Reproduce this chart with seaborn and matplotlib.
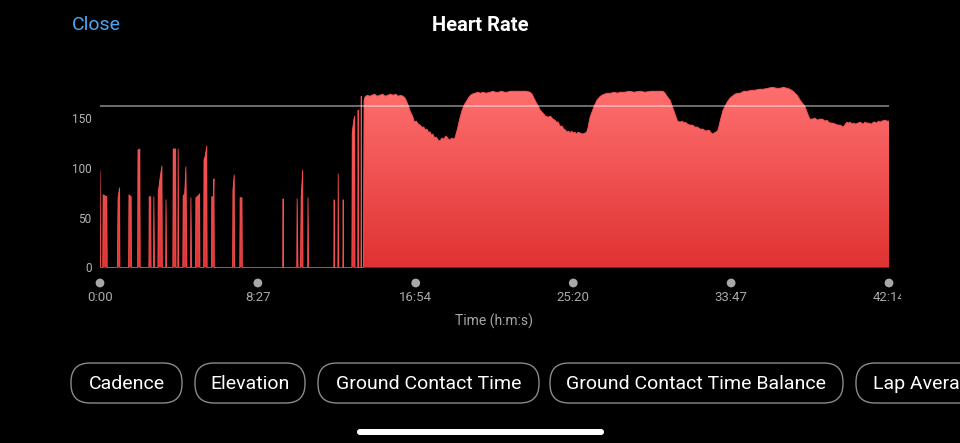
import numpy as np
import pandas as pd
import matplotlib
matplotlib.use("Agg")
import matplotlib.pyplot as plt
import seaborn as sns
from matplotlib.patches import FancyBboxPatch
from matplotlib.colors import LinearSegmentedColormap
from matplotlib.transforms import Bbox, TransformedBbox, blended_transform_factory

# ---------------- data ----------------
spike_time = [0, 2, 9, 10, 22, 23, 56, 58, 63, 64, 92, 93, 100, 101,
              121, 122, 128, 129, 157, 158, 163, 164, 172, 173, 175,
              186, 187, 193, 199, 200, 211, 212, 214, 234, 235, 243, 244,
              250, 251, 253, 266, 267, 272, 276, 279, 291, 292, 294,
              307, 308, 315, 320, 321, 333, 334, 338, 343, 344,
              358, 359, 364, 366, 367, 426, 427, 431, 432, 449, 450, 456, 457,
              587, 588, 589, 632, 633, 636, 644, 646, 651, 652, 667, 668, 670,
              751, 752, 753, 764, 765, 767, 780, 781, 782,
              809, 810, 815, 818, 819, 828, 829, 830, 838, 839, 840, 846]
spike_bpm = [97, 0, 0, 73, 71, 0, 0, 70, 80, 0, 0, 73, 71, 0,
             0, 118, 119, 0, 0, 71, 71, 0, 0, 71, 0,
             0, 75, 90, 102, 0, 0, 68, 0, 0, 119, 119, 0,
             0, 119, 0, 0, 72, 74, 101, 0, 0, 70, 0,
             0, 70, 72, 74, 0, 0, 108, 112, 122, 0,
             0, 71, 71, 89, 0, 0, 78, 93, 0, 0, 70, 70, 0,
             0, 69, 0, 0, 69, 0, 0, 70, 98, 0, 0, 70, 0,
             0, 68, 0, 0, 94, 0, 0, 68, 0,
             0, 135, 148, 152, 0, 0, 158, 0, 0, 172, 0, 0]

run_time = [848, 851, 858, 866, 874, 882, 890, 899, 908, 916, 925, 933, 942,
            950, 958, 966, 973, 980, 986, 991, 996, 1004, 1010, 1016, 1022,
            1028, 1034, 1040, 1045, 1050, 1055, 1060, 1065, 1069, 1075, 1080,
            1086, 1092, 1098, 1105, 1110, 1114, 1119, 1124, 1129, 1134, 1140,
            1147, 1156, 1163, 1171, 1179, 1187, 1195, 1205, 1214, 1222, 1230,
            1240, 1253, 1262, 1270, 1280, 1290, 1299, 1307, 1318, 1330, 1340,
            1349, 1360, 1370, 1381, 1388, 1394, 1404, 1414, 1423, 1431, 1439,
            1447, 1455, 1461, 1466, 1472, 1477, 1484, 1490, 1495, 1500, 1505,
            1510, 1515, 1519, 1525, 1530, 1536, 1542, 1550, 1558, 1563, 1567,
            1574, 1587, 1596, 1604, 1612, 1620, 1628, 1640, 1652, 1662, 1670,
            1685, 1700, 1715, 1734, 1750, 1770, 1790, 1808, 1815, 1821, 1831,
            1839, 1847, 1855, 1863, 1870, 1875, 1879, 1887, 1895, 1903, 1911,
            1919, 1927, 1936, 1946, 1956, 1961, 1966, 1972, 1979, 1985, 1994,
            2001, 2014, 2023, 2031, 2039, 2048, 2056, 2068, 2080, 2092, 2104,
            2117, 2130, 2145, 2161, 2172, 2184, 2195, 2206, 2216, 2226, 2239,
            2251, 2264, 2272, 2280, 2288, 2296, 2305, 2312, 2320, 2329, 2335,
            2340, 2347, 2354, 2362, 2370, 2378, 2386, 2392, 2399, 2404, 2409,
            2415, 2420, 2427, 2434, 2442, 2450, 2457, 2463, 2470, 2478, 2484,
            2489, 2495, 2500, 2506, 2512, 2520, 2528, 2534]
run_bpm = [168, 171, 173, 172, 173, 174, 172, 173, 174, 172, 173, 174, 173,
           174, 172, 173, 172, 170, 166, 162, 157, 152, 146, 147, 144,
           143, 141, 141, 138, 139, 136, 136, 133, 134, 130, 131,
           128, 127, 130, 129, 132, 131, 129, 128, 130, 129, 130,
           138, 150, 158, 164, 168, 172, 174, 175, 176, 175, 176,
           175, 176, 177, 176, 176, 177, 176, 176, 177, 177, 177,
           177, 177, 177, 176, 174, 170, 164, 158, 155, 152, 151,
           152, 149, 148, 146, 146, 142, 142, 139, 138, 136, 137,
           135, 137, 135, 136, 134, 136, 135, 134, 135, 136, 140,
           151, 162, 168, 171, 173, 174, 175, 175, 176, 175, 176,
           176, 177, 176, 177, 176, 177, 177, 177, 175, 172, 168,
           161, 154, 147, 146, 147, 145, 146, 144, 143, 143, 141,
           141, 139, 139, 137, 138, 136, 134, 135, 136, 138, 150,
           158, 166, 170, 172, 174, 175, 175, 177, 177, 178, 178,
           179, 179, 180, 181, 180, 180, 181, 180, 179, 177, 173,
           167, 162, 155, 149, 149, 150, 148, 149, 149, 147, 148,
           146, 145, 145, 144, 143, 143, 141, 143, 146, 145, 146,
           144, 145, 144, 145, 146, 144, 146, 145, 145, 144, 146,
           146, 145, 147, 146, 147, 148, 147, 147]

hr_time = spike_time + run_time
hr_bpm = spike_bpm + run_bpm
ref_bpm = 162

tick_secs = [0, 507, 1014, 1520, 2027, 2534]
tick_labels = ["0:00", "8:27", "16:54", "25:20", "33:47", "42:14"]
y_ticks = [0, 50, 100, 150]
metric_buttons = ["Cadence", "Elevation", "Ground Contact Time",
                  "Ground Contact Time Balance", "Lap Average"]

df = pd.DataFrame({"time": hr_time, "bpm": hr_bpm})

# ---------------- figure ----------------
sns.set_theme(style="dark")
plt.rcParams["font.family"] = ["Roboto", "DejaVu Sans"]
W, H = 960, 443
fig = plt.figure(figsize=(W / 100, H / 100), dpi=100, facecolor="black")

# overlay axes in pixel coordinates for UI chrome
ui = fig.add_axes([0, 0, 1, 1])
ui.set_xlim(0, W)
ui.set_ylim(H, 0)
ui.axis("off")
ui.patch.set_alpha(0)

ax_l, ax_r = 100, 889
y0_px = 267.5
px_per_bpm = 0.996
ymax = 190
ax_top = y0_px - ymax * px_per_bpm
ax = fig.add_axes([ax_l / W, (H - y0_px) / H, (ax_r - ax_l) / W, (y0_px - ax_top) / H])
ax.set_facecolor("black")
for s in ax.spines.values():
    s.set_visible(False)
ax.grid(False)
ax.set_xlim(0, 2534)
ax.set_ylim(0, ymax)

# area with gradient
fb = ax.fill_between(df["time"], 0, df["bpm"], facecolor="#ee4444", edgecolor="none", lw=0)
cmap = LinearSegmentedColormap.from_list("hr", ["#e03232", "#ff7070"])
grad = np.linspace(0, 1, 256).reshape(-1, 1)
im = ax.imshow(grad, cmap=cmap, aspect="auto", origin="lower",
               extent=[0, 2534, 0, 182], zorder=2, interpolation="bicubic")
im.set_clip_path(fb.get_paths()[0], transform=ax.transData)
sns.lineplot(data=df, x="time", y="bpm", ax=ax, color="#f05050", lw=0.6,
             estimator=None, sort=False, zorder=3)

ax.axhline(ref_bpm, color="white", alpha=0.5, lw=1.2, zorder=4)

# ticks
ax.set_xticks([])
ax.set_xlabel("")
ax.set_ylabel("")
ax.set_yticks(y_ticks)
ax.set_yticklabels([str(v) for v in y_ticks])
ax.tick_params(axis="y", length=0, pad=6, labelsize=8.5, labelcolor="#b4b4b4")

btrans = blended_transform_factory(ax.transData, ax.transAxes)
ah = y0_px - ax_top
ax.scatter(tick_secs, [-15.5 / ah] * len(tick_secs), s=40, color="#a8a8a8",
           transform=btrans, clip_on=False, zorder=5, edgecolor="none")
clipbox = TransformedBbox(Bbox.from_extents(0, 0, 901 / W, 1), fig.transFigure)
for t, lab in zip(tick_secs, tick_labels):
    txt = ax.text(t, -30 / ah, lab, transform=btrans, ha="center", va="center",
                  fontsize=9.5, color="#a8a8a8")
    txt.set_clip_box(clipbox)
    txt.set_clip_on(True)

ui.text(494, 321, "Time (h:m:s)", ha="center", va="center",
        fontsize=10, color="#a8a8a8")

# header
ui.text(480, 25, "Heart Rate", ha="center", va="center",
        fontsize=14.5, fontweight="bold", color="white")
ui.text(72, 25, "Close", ha="left", va="center",
        fontsize=14, color="#4da6f0")

# pills
pills = [(71, 182), (195, 305), (318, 539), (550, 843), (856, 990)]
for (x0, x1), name in zip(pills, metric_buttons):
    yt, yb = 363, 403
    p = FancyBboxPatch((x0, yt), x1 - x0, yb - yt,
                       boxstyle="round,pad=0,rounding_size=19",
                       facecolor="none", edgecolor="#8a8a8a", lw=1.0)
    ui.add_patch(p)
    if name == "Lap Average":
        ui.text(x0 + 17, 384, name, ha="left", va="center",
                fontsize=14, color="white")
    else:
        ui.text((x0 + x1) / 2, 384, name, ha="center", va="center",
                fontsize=14, color="white")

# home indicator
ui.add_patch(FancyBboxPatch((357, 429), 247, 6,
                            boxstyle="round,pad=0,rounding_size=3",
                            facecolor="white", edgecolor="none"))

fig.savefig("out.png", dpi=100, facecolor="black")
